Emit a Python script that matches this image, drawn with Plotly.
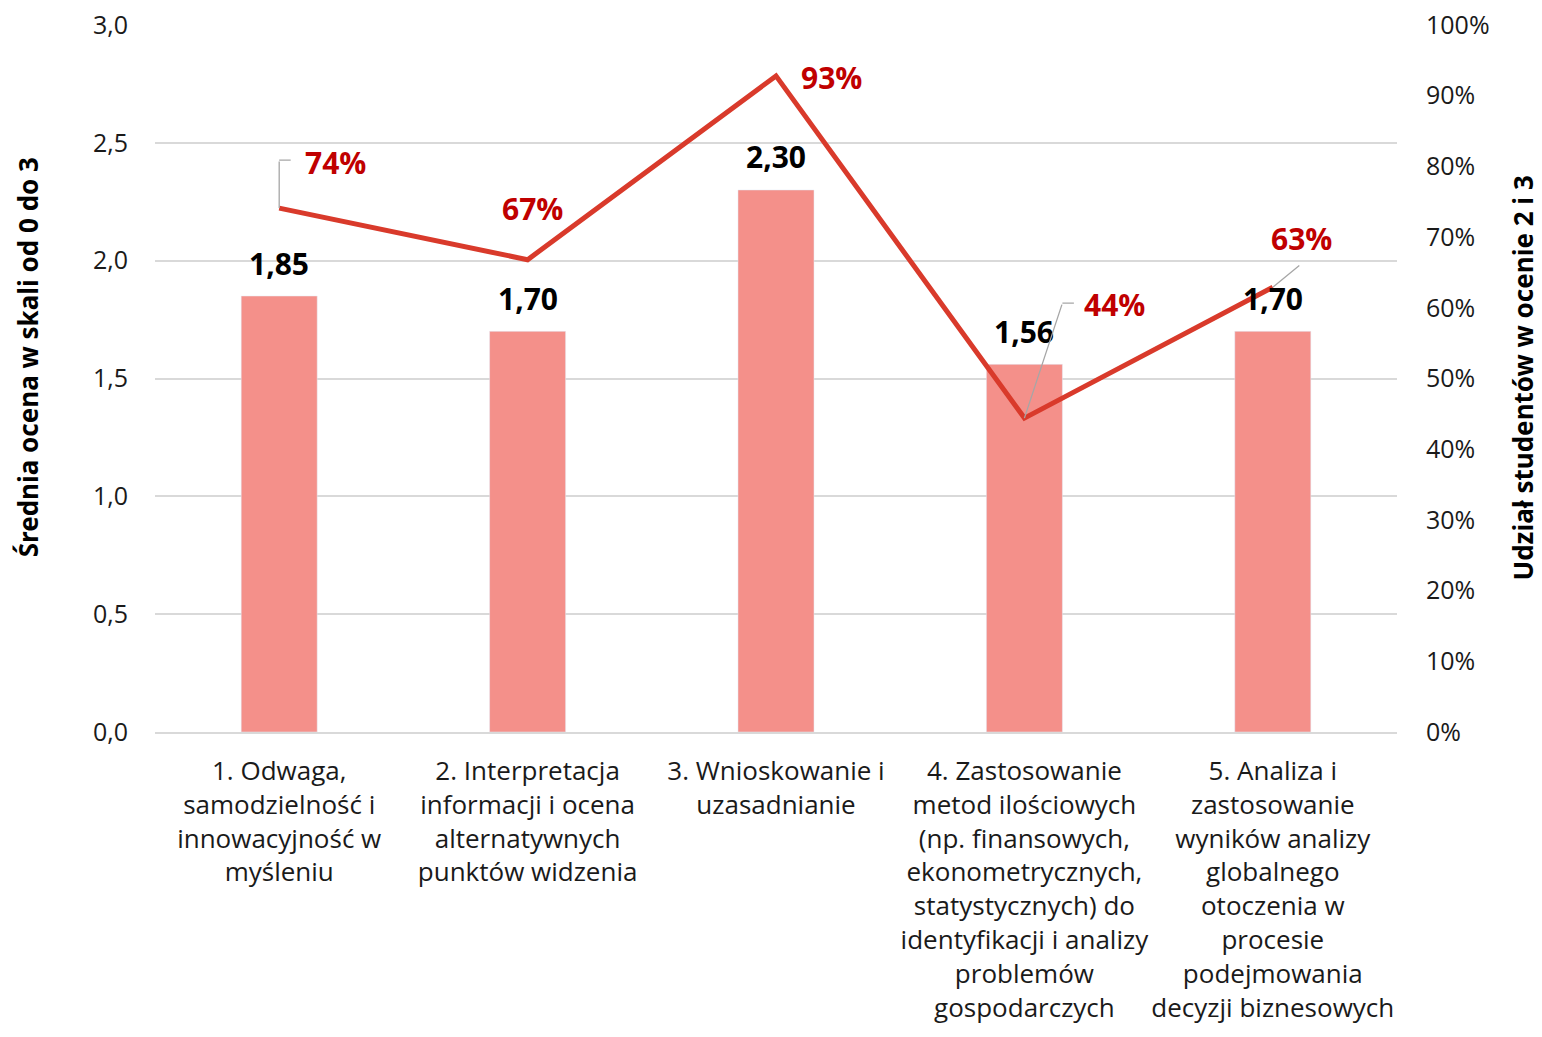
import plotly.graph_objects as go

categories = [
    "1. Odwaga,<br>samodzielność i<br>innowacyjność w<br>myśleniu",
    "2. Interpretacja<br>informacji i ocena<br>alternatywnych<br>punktów widzenia",
    "3. Wnioskowanie i<br>uzasadnianie",
    "4. Zastosowanie<br>metod ilościowych<br>(np. finansowych,<br>ekonometrycznych,<br>statystycznych) do<br>identyfikacji i analizy<br>problemów<br>gospodarczych",
    "5. Analiza i<br>zastosowanie<br>wyników analizy<br>globalnego<br>otoczenia w<br>procesie<br>podejmowania<br>decyzji biznesowych",
]
mean_scores = [1.85, 1.70, 2.30, 1.56, 1.70]
share_2_3 = [0.741, 0.668, 0.928, 0.444, 0.629]
share_labels = ["74%", "67%", "93%", "44%", "63%"]

left_ticks = [0, 0.5, 1.0, 1.5, 2.0, 2.5, 3.0]
right_ticks = [0, 0.1, 0.2, 0.3, 0.4, 0.5, 0.6, 0.7, 0.8, 0.9, 1.0]

left_title = "Średnia ocena w skali od 0 do 3"
right_title = "Udział studentów w ocenie 2 i 3"

BAR_COLOR = "#F4908A"
LINE_COLOR = "#D93A2B"
LABEL_RED = "#C00000"
TICK_FONT = dict(family="Open Sans, DejaVu Sans, sans-serif", size=25, color="#1a1a1a")
CAT_FONT = dict(family="Open Sans, DejaVu Sans, sans-serif", size=26, color="#1a1a1a")
TITLE_FONT = dict(family="Noto Sans, sans-serif", size=26, color="#000000")

fig = go.Figure()
fig.add_trace(go.Bar(
    x=categories, y=mean_scores, marker_color=BAR_COLOR, width=0.306,
    showlegend=False, hoverinfo="x+y",
))
fig.add_trace(go.Scatter(
    x=categories, y=share_2_3, yaxis="y2", mode="lines",
    line=dict(color=LINE_COLOR, width=5), showlegend=False,
))

# bar value labels
for cat, v in zip(categories, mean_scores):
    fig.add_annotation(
        x=cat, y=v, xref="x", yref="y", showarrow=False, yshift=33,
        text="<b>%s</b>" % ("%.2f" % v).replace(".", ","),
        font=dict(family="Open Sans, sans-serif", size=30, color="#000000"),
    )

# percentage labels: text offset (px, y up) and leader-line path (px, y up)
label_pos = [(56, 46), (5, 51), (55, -2), (90, 114), (29, 49)]
leaders = [
    [(0, 0), (0, 48), (13, 48)],
    None,
    None,
    [(0, 0), (38, 115), (51, 115)],
    [(0, 0), (28, 23)],
]
for cat, val, lab, pos, path in zip(categories, share_2_3, share_labels, label_pos, leaders):
    if path:
        for (x0, y0), (x1, y1) in zip(path[:-1], path[1:]):
            fig.add_annotation(
                x=cat, y=val, xref="x", yref="y2", text="",
                xshift=x0, yshift=y0, ax=x1 - x0, ay=-(y1 - y0),
                showarrow=True, arrowhead=0, arrowwidth=1.3,
                arrowcolor="#A6A6A6", standoff=0, startstandoff=0,
            )
    fig.add_annotation(
        x=cat, y=val, xref="x", yref="y2", text="<b>%s</b>" % lab,
        showarrow=False, xshift=pos[0], yshift=pos[1],
        font=dict(family="Open Sans, sans-serif", size=30, color=LABEL_RED),
    )

# axis titles
fig.add_annotation(x=0, y=0.53, xref="paper", yref="paper", xshift=-127,
                   text="<b>%s</b>" % left_title, textangle=-90, showarrow=False,
                   font=TITLE_FONT, xanchor="center", yanchor="middle")
fig.add_annotation(x=1, y=0.5, xref="paper", yref="paper", xshift=125,
                   text="<b>%s</b>" % right_title, textangle=-90, showarrow=False,
                   font=TITLE_FONT, xanchor="center", yanchor="middle")

fig.update_layout(
    width=1534, height=1029,
    margin=dict(l=147, r=145, t=17, b=305),
    plot_bgcolor="white", paper_bgcolor="white",
    separators=", ",
    xaxis=dict(tickfont=CAT_FONT, showline=True, linecolor="#D9D9D9", linewidth=1.5,
               ticks="", tickangle=0, automargin=False, ticklabelstandoff=15),
    yaxis=dict(range=[0, 3], tickvals=left_ticks, tickformat=".1f", tickfont=TICK_FONT,
               showgrid=True, gridcolor="#D9D9D9", gridwidth=1.5, zeroline=False,
               automargin=False, ticks="", ticklabelstandoff=26, ticklabeloverflow="allow"),
    yaxis2=dict(range=[0, 1], tickvals=right_ticks, tickformat=".0%", tickfont=TICK_FONT,
                overlaying="y", side="right", showgrid=False, zeroline=False,
                automargin=False, ticks="", ticklabelstandoff=28, ticklabeloverflow="allow"),
)

fig.write_html("out.html")
